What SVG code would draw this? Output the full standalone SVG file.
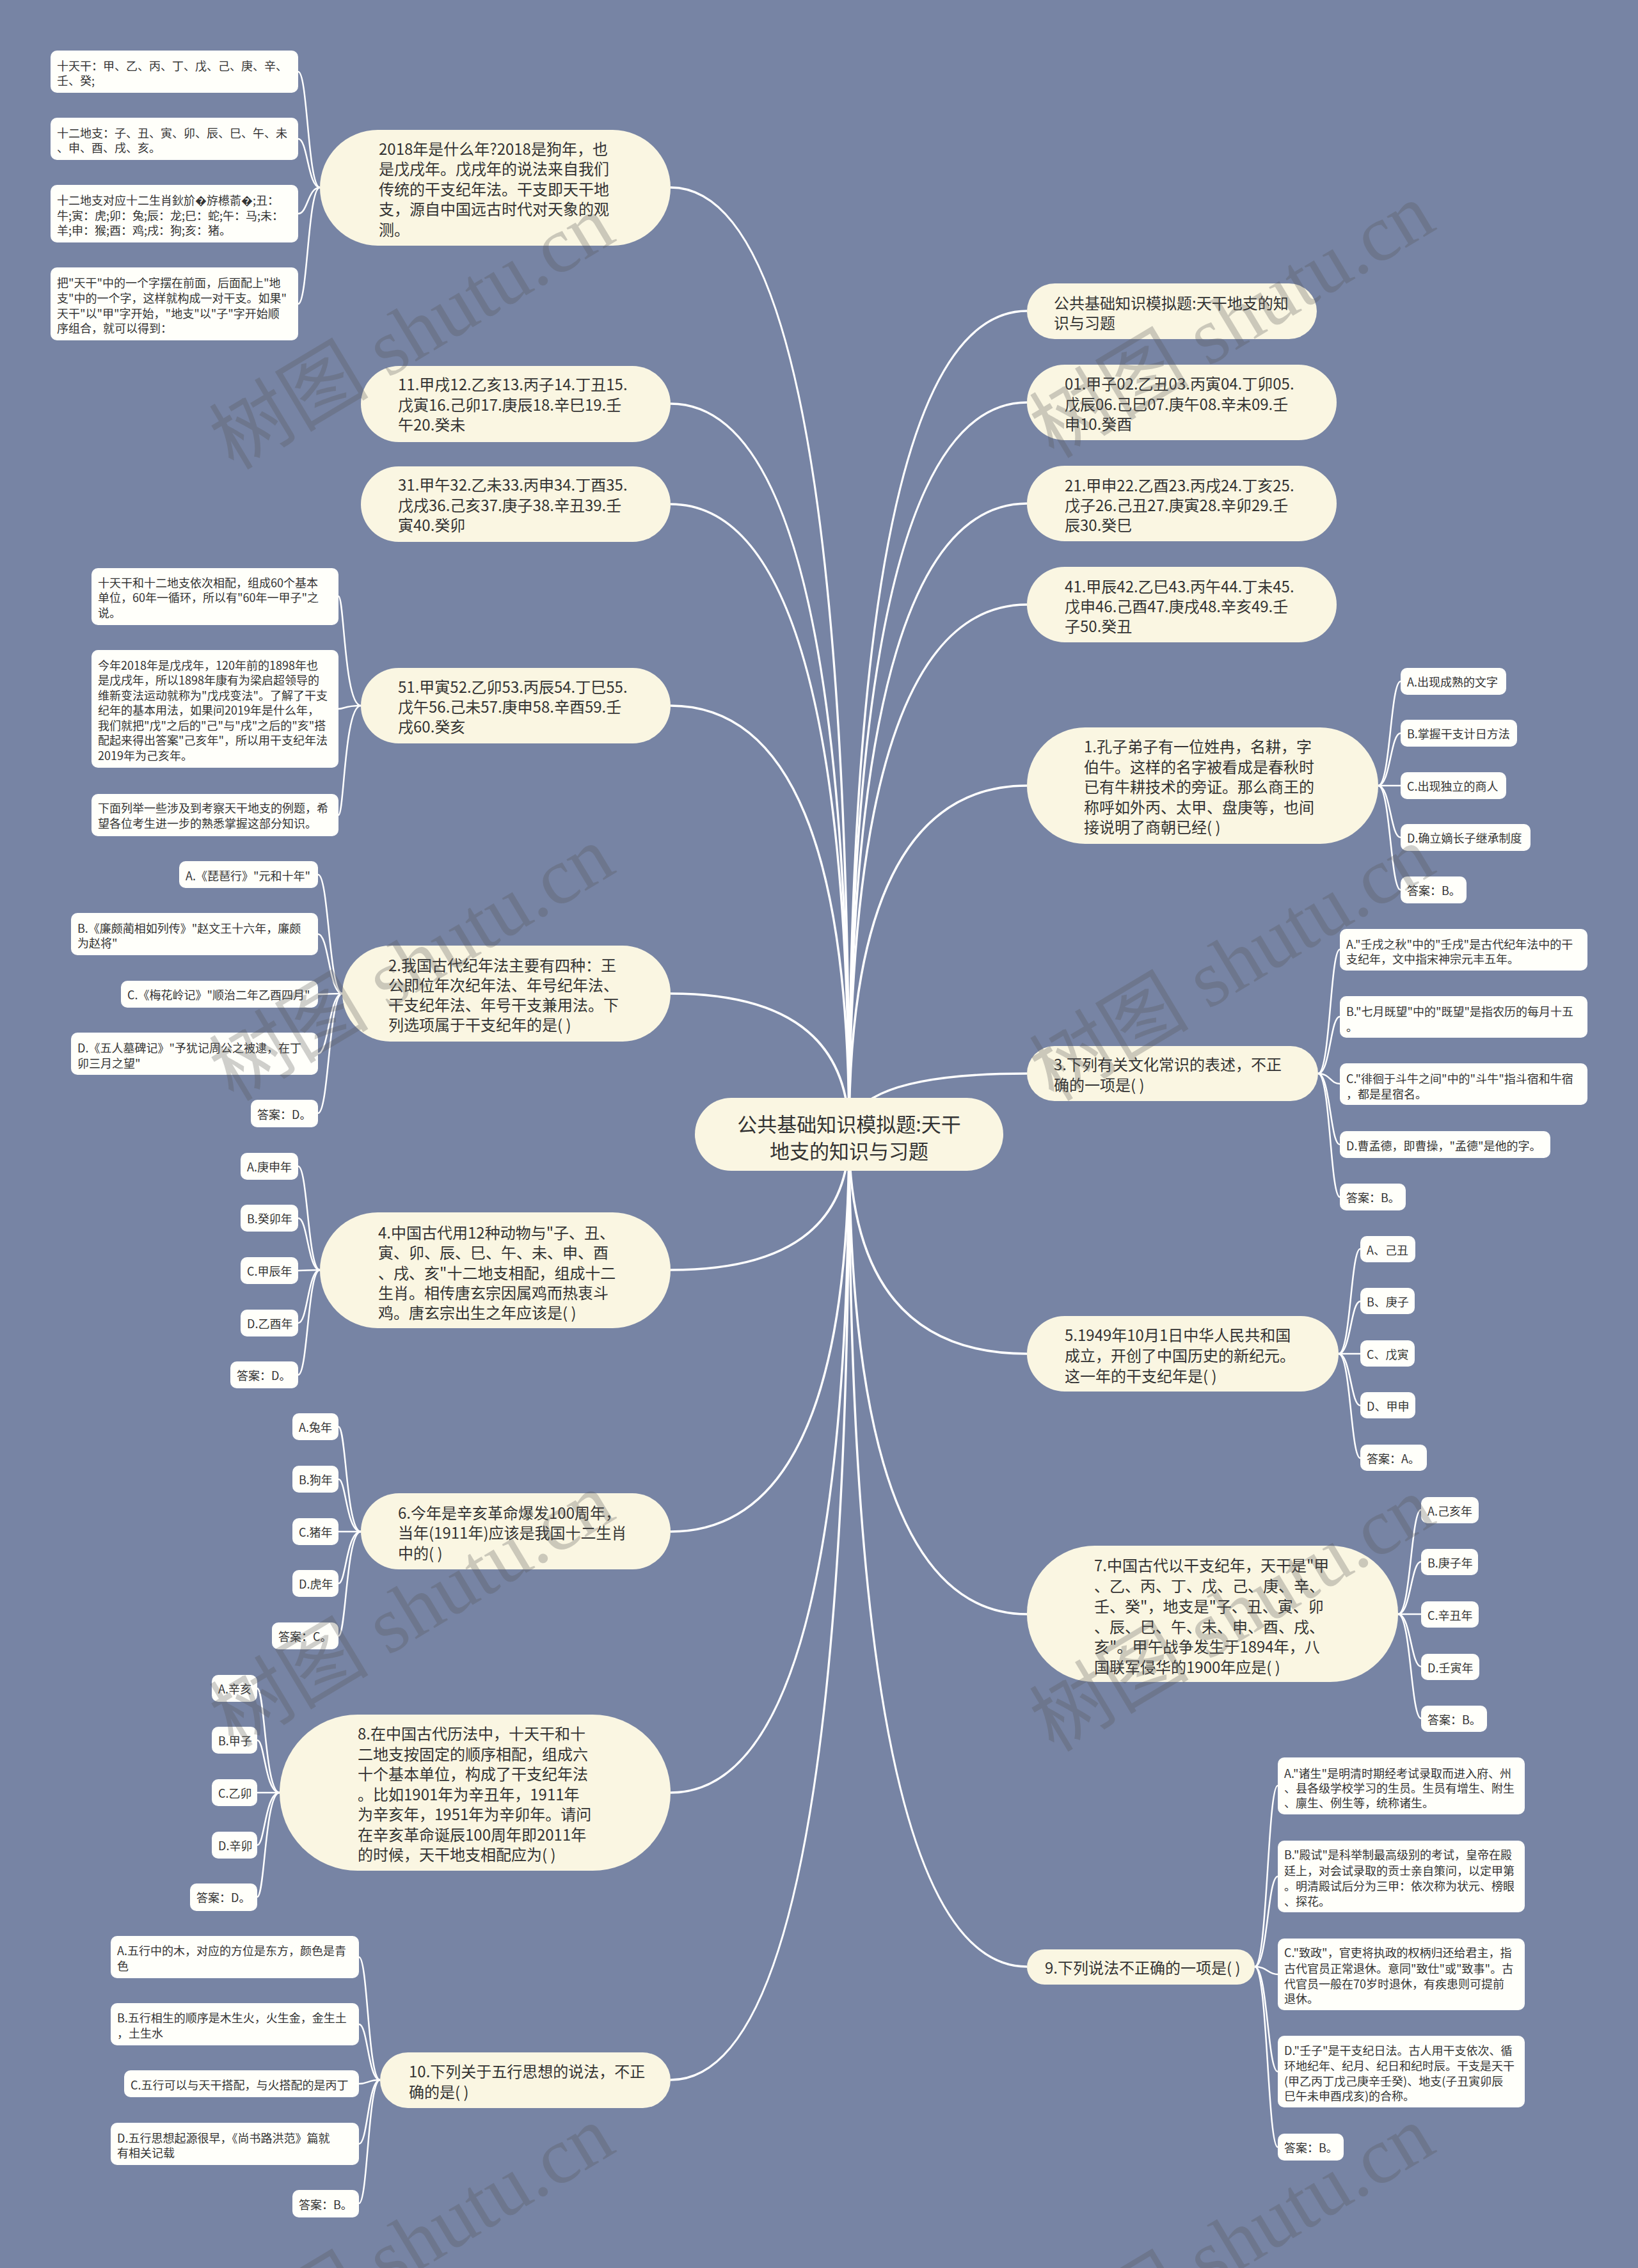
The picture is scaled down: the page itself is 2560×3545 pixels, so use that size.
<svg xmlns="http://www.w3.org/2000/svg" width="2560" height="3545" viewBox="0 0 2560 3545">
<style>
.c1{fill:none;stroke:#fff;stroke-width:3.5}
.c2{fill:none;stroke:#fff;stroke-width:2.5}
.n0{fill:#FAF6E2}
.n1{fill:#FAF6E2}
.lf{fill:#FFFFFA}
text{font-family:"Noto Sans CJK SC","Noto Sans",sans-serif;fill:#333;dominant-baseline:central}
.t0{font-size:31px}
.t1{font-size:24px}
.t2{font-size:18px}
.wm{font-family:"Liberation Serif","Noto Sans CJK SC",serif;font-size:125px;fill:#555;opacity:.28;dominant-baseline:auto}
</style>
<rect width="2560" height="3545" fill="#7784A4"/>
<g id="connectors">
<path class="c1" d="M1327 1773 Q1327 293 1048 293"/>
<path class="c1" d="M1327 1773 Q1327 631 1048 631"/>
<path class="c1" d="M1327 1773 Q1327 788 1048 788"/>
<path class="c1" d="M1327 1773 Q1327 1103 1048 1103"/>
<path class="c1" d="M1327 1773 Q1327 1553 1048 1553"/>
<path class="c1" d="M1327 1773 Q1327 1985 1048 1985"/>
<path class="c1" d="M1327 1773 Q1327 2394 1048 2394"/>
<path class="c1" d="M1327 1773 Q1327 2802 1048 2802"/>
<path class="c1" d="M1327 1773 Q1327 3251 1048 3251"/>
<path class="c1" d="M1327 1773 Q1327 486 1605 486"/>
<path class="c1" d="M1327 1773 Q1327 629 1605 629"/>
<path class="c1" d="M1327 1773 Q1327 787 1605 787"/>
<path class="c1" d="M1327 1773 Q1327 945 1605 945"/>
<path class="c1" d="M1327 1773 Q1327 1228 1605 1228"/>
<path class="c1" d="M1327 1773 Q1327 1678 1605 1678"/>
<path class="c1" d="M1327 1773 Q1327 2116 1605 2116"/>
<path class="c1" d="M1327 1773 Q1327 2523 1605 2523"/>
<path class="c1" d="M1327 1773 Q1327 3074 1605 3074"/>
<path class="c2" d="M500 293 C481 293 481 112 466 112"/>
<path class="c2" d="M500 293 C481 293 481 217 466 217"/>
<path class="c2" d="M500 293 C481 293 481 334 466 334"/>
<path class="c2" d="M500 293 C481 293 481 475 466 475"/>
<path class="c2" d="M564 1103 C538 1103 538 932 529 932"/>
<path class="c2" d="M564 1103 C538 1103 538 1108 529 1108"/>
<path class="c2" d="M564 1103 C538 1103 538 1274 529 1274"/>
<path class="c2" d="M535 1553 C514 1553 514 1367 497 1367"/>
<path class="c2" d="M535 1553 C514 1553 514 1460 497 1460"/>
<path class="c2" d="M535 1553 C514 1553 514 1554 497 1554"/>
<path class="c2" d="M535 1553 C514 1553 514 1647 497 1647"/>
<path class="c2" d="M535 1553 C514 1553 514 1740 497 1740"/>
<path class="c2" d="M500 1985 C481 1985 481 1823 466 1823"/>
<path class="c2" d="M500 1985 C481 1985 481 1904 466 1904"/>
<path class="c2" d="M500 1985 C481 1985 481 1986 466 1986"/>
<path class="c2" d="M500 1985 C481 1985 481 2068 466 2068"/>
<path class="c2" d="M500 1985 C481 1985 481 2149 466 2149"/>
<path class="c2" d="M564 2394 C541 2394 541 2230 529 2230"/>
<path class="c2" d="M564 2394 C541 2394 541 2312 529 2312"/>
<path class="c2" d="M564 2394 C541 2394 541 2394 529 2394"/>
<path class="c2" d="M564 2394 C541 2394 541 2475 529 2475"/>
<path class="c2" d="M564 2394 C541 2394 541 2557 529 2557"/>
<path class="c2" d="M437 2802 C414 2802 414 2639 402 2639"/>
<path class="c2" d="M437 2802 C414 2802 414 2720 402 2720"/>
<path class="c2" d="M437 2802 C414 2802 414 2802 402 2802"/>
<path class="c2" d="M437 2802 C414 2802 414 2884 402 2884"/>
<path class="c2" d="M437 2802 C414 2802 414 2965 402 2965"/>
<path class="c2" d="M594 3251 C575 3251 575 3059 561 3059"/>
<path class="c2" d="M594 3251 C575 3251 575 3164 561 3164"/>
<path class="c2" d="M594 3251 C575 3251 575 3257 561 3257"/>
<path class="c2" d="M594 3251 C575 3251 575 3351 561 3351"/>
<path class="c2" d="M594 3251 C575 3251 575 3444 561 3444"/>
<path class="c2" d="M2154 1228 C2173 1228 2173 1065 2189 1065"/>
<path class="c2" d="M2154 1228 C2173 1228 2173 1146 2189 1146"/>
<path class="c2" d="M2154 1228 C2173 1228 2173 1228 2189 1228"/>
<path class="c2" d="M2154 1228 C2173 1228 2173 1309 2189 1309"/>
<path class="c2" d="M2154 1228 C2173 1228 2173 1391 2189 1391"/>
<path class="c2" d="M2060 1678 C2079 1678 2079 1484 2094 1484"/>
<path class="c2" d="M2060 1678 C2079 1678 2079 1589 2094 1589"/>
<path class="c2" d="M2060 1678 C2079 1678 2079 1694 2094 1694"/>
<path class="c2" d="M2060 1678 C2079 1678 2079 1789 2094 1789"/>
<path class="c2" d="M2060 1678 C2079 1678 2079 1871 2094 1871"/>
<path class="c2" d="M2092 2116 C2111 2116 2111 1952 2126 1952"/>
<path class="c2" d="M2092 2116 C2111 2116 2111 2034 2126 2034"/>
<path class="c2" d="M2092 2116 C2111 2116 2111 2116 2126 2116"/>
<path class="c2" d="M2092 2116 C2111 2116 2111 2197 2126 2197"/>
<path class="c2" d="M2092 2116 C2111 2116 2111 2279 2126 2279"/>
<path class="c2" d="M2185 2523 C2205 2523 2205 2360 2221 2360"/>
<path class="c2" d="M2185 2523 C2205 2523 2205 2441 2221 2441"/>
<path class="c2" d="M2185 2523 C2205 2523 2205 2523 2221 2523"/>
<path class="c2" d="M2185 2523 C2205 2523 2205 2605 2221 2605"/>
<path class="c2" d="M2185 2523 C2205 2523 2205 2686 2221 2686"/>
<path class="c2" d="M1961 3074 C1981 3074 1981 2791 1997 2791"/>
<path class="c2" d="M1961 3074 C1981 3074 1981 2933 1997 2933"/>
<path class="c2" d="M1961 3074 C1981 3074 1981 3086 1997 3086"/>
<path class="c2" d="M1961 3074 C1981 3074 1981 3238 1997 3238"/>
<path class="c2" d="M1961 3074 C1981 3074 1981 3356 1997 3356"/>
</g>

<g id="center">
<rect class="n0" x="1086" y="1716" width="482" height="114" rx="57"/>
<text class="t0" text-anchor="middle"><tspan x="1327" y="1755">公共基础知识模拟题:天干</tspan><tspan x="1327" y="1797">地支的知识与习题</tspan></text>
</g>

<g id="L1">
<rect class="n1" x="500" y="203" width="548" height="181" rx="90.5"/>
<text class="t1"><tspan x="592" y="231">2018年是什么年?2018是狗年，也</tspan><tspan x="592" y="262">是戊戌年。戊戌年的说法来自我们</tspan><tspan x="592" y="294">传统的干支纪年法。干支即天干地</tspan><tspan x="592" y="325">支，源自中国远古时代对天象的观</tspan><tspan x="592" y="357">测。</tspan></text>
</g>
<g id="L1a"><rect class="lf" x="79" y="79" width="387" height="66" rx="10"/><text class="t2"><tspan x="89" y="102">十天干：甲、乙、丙、丁、戊、己、庚、辛、</tspan><tspan x="89" y="125">壬、癸;</tspan></text></g>
<g id="L1b"><rect class="lf" x="79" y="184" width="387" height="66" rx="10"/><text class="t2"><tspan x="89" y="207">十二地支：子、丑、寅、卯、辰、巳、午、未</tspan><tspan x="89" y="230">、申、酉、戌、亥。</tspan></text></g>
<g id="L1c"><rect class="lf" x="79" y="289" width="387" height="90" rx="10"/><text class="t2"><tspan x="89" y="312">十二地支对应十二生肖鈥斺�斿櫒萮�;丑：</tspan><tspan x="89" y="335.5">牛;寅：虎;卯：兔;辰：龙;巳：蛇;午：马;未：</tspan><tspan x="89" y="359">羊;申：猴;酉：鸡;戌：狗;亥：猪。</tspan></text></g>
<g id="L1d"><rect class="lf" x="79" y="418" width="387" height="114" rx="10"/><text class="t2"><tspan x="89" y="441">把"天干"中的一个字摆在前面，后面配上"地</tspan><tspan x="89" y="465">支"中的一个字，这样就构成一对干支。如果"</tspan><tspan x="89" y="488.5">天干"以"甲"字开始，"地支"以"子"字开始顺</tspan><tspan x="89" y="512">序组合，就可以得到：</tspan></text></g>

<g id="L2"><rect class="n1" x="564" y="572" width="484" height="119" rx="59.5"/><text class="t1"><tspan x="622" y="599">11.甲戌12.乙亥13.丙子14.丁丑15.</tspan><tspan x="622" y="631">戊寅16.己卯17.庚辰18.辛巳19.壬</tspan><tspan x="622" y="662">午20.癸未</tspan></text></g>
<g id="L3"><rect class="n1" x="564" y="729" width="484" height="118" rx="59"/><text class="t1"><tspan x="622" y="756">31.甲午32.乙未33.丙申34.丁酉35.</tspan><tspan x="622" y="788">戊戌36.己亥37.庚子38.辛丑39.壬</tspan><tspan x="622" y="819">寅40.癸卯</tspan></text></g>
<g id="L4"><rect class="n1" x="564" y="1044" width="484" height="118" rx="59"/><text class="t1"><tspan x="622" y="1072">51.甲寅52.乙卯53.丙辰54.丁巳55.</tspan><tspan x="622" y="1103">戊午56.己未57.庚申58.辛酉59.壬</tspan><tspan x="622" y="1134">戌60.癸亥</tspan></text></g>
<g id="L4a"><rect class="lf" x="143" y="888" width="386" height="89" rx="10"/><text class="t2"><tspan x="153" y="909.5">十天干和十二地支依次相配，组成60个基本</tspan><tspan x="153" y="933">单位，60年一循环，所以有"60年一甲子"之</tspan><tspan x="153" y="956.5">说。</tspan></text></g>
<g id="L4b"><rect class="lf" x="143" y="1016" width="386" height="184" rx="10"/><text class="t2"><tspan x="153" y="1038.5">今年2018年是戊戌年，120年前的1898年也</tspan><tspan x="153" y="1062">是戊戌年，所以1898年康有为梁启超领导的</tspan><tspan x="153" y="1085.5">维新变法运动就称为"戊戌变法"。了解了干支</tspan><tspan x="153" y="1109">纪年的基本用法，如果问2019年是什么年，</tspan><tspan x="153" y="1132.5">我们就把"戊"之后的"己"与"戌"之后的"亥"搭</tspan><tspan x="153" y="1156">配起来得出答案"己亥年"，所以用干支纪年法</tspan><tspan x="153" y="1179.5">2019年为己亥年。</tspan></text></g>
<g id="L4c"><rect class="lf" x="143" y="1241" width="386" height="66" rx="10"/><text class="t2"><tspan x="153" y="1262">下面列举一些涉及到考察天干地支的例题，希</tspan><tspan x="153" y="1285.5">望各位考生进一步的熟悉掌握这部分知识。</tspan></text></g>

<g id="L5"><rect class="n1" x="535" y="1478" width="513" height="150" rx="75"/><text class="t1"><tspan x="607" y="1507">2.我国古代纪年法主要有四种：王</tspan><tspan x="607" y="1538">公即位年次纪年法、年号纪年法、</tspan><tspan x="607" y="1569">干支纪年法、年号干支兼用法。下</tspan><tspan x="607" y="1600">列选项属于干支纪年的是( )</tspan></text></g>
<g id="L5a"><rect class="lf" x="280" y="1346" width="217" height="42" rx="10"/><text class="t2" x="290" y="1368">A.《琵琶行》"元和十年"</text></g>
<g id="L5b"><rect class="lf" x="111" y="1427" width="386" height="66" rx="10"/><text class="t2"><tspan x="121" y="1450">B.《廉颇蔺相如列传》"赵文王十六年，廉颇</tspan><tspan x="121" y="1473">为赵将"</tspan></text></g>
<g id="L5c"><rect class="lf" x="189" y="1533" width="308" height="42" rx="10"/><text class="t2" x="199" y="1554">C.《梅花岭记》"顺治二年乙酉四月"</text></g>
<g id="L5d"><rect class="lf" x="111" y="1614" width="386" height="66" rx="10"/><text class="t2"><tspan x="121" y="1637">D.《五人墓碑记》"予犹记周公之被逮，在丁</tspan><tspan x="121" y="1661">卯三月之望"</tspan></text></g>
<g id="L5e"><rect class="lf" x="392" y="1719" width="105" height="43" rx="10"/><text class="t2" x="402" y="1741">答案：D。</text></g>

<g id="L6"><rect class="n1" x="500" y="1895" width="548" height="181" rx="90.5"/><text class="t1"><tspan x="591" y="1925">4.中国古代用12种动物与"子、丑、</tspan><tspan x="591" y="1956">寅、卯、辰、巳、午、未、申、酉</tspan><tspan x="591" y="1988">、戌、亥"十二地支相配，组成十二</tspan><tspan x="591" y="2019">生肖。相传唐玄宗因属鸡而热衷斗</tspan><tspan x="591" y="2050">鸡。唐玄宗出生之年应该是( )</tspan></text></g>
<g id="L6a"><rect class="lf" x="376" y="1802" width="90" height="42" rx="10"/><text class="t2" x="386" y="1823">A.庚申年</text></g>
<g id="L6b"><rect class="lf" x="376" y="1883" width="90" height="42" rx="10"/><text class="t2" x="386" y="1904">B.癸卯年</text></g>
<g id="L6c"><rect class="lf" x="376" y="1965" width="90" height="42" rx="10"/><text class="t2" x="386" y="1986">C.甲辰年</text></g>
<g id="L6d"><rect class="lf" x="376" y="2047" width="90" height="42" rx="10"/><text class="t2" x="386" y="2068">D.乙酉年</text></g>
<g id="L6e"><rect class="lf" x="360" y="2128" width="106" height="42" rx="10"/><text class="t2" x="370" y="2149">答案：D。</text></g>

<g id="L7"><rect class="n1" x="564" y="2334" width="484" height="119" rx="59.5"/><text class="t1"><tspan x="622" y="2363">6.今年是辛亥革命爆发100周年，</tspan><tspan x="622" y="2394">当年(1911年)应该是我国十二生肖</tspan><tspan x="622" y="2426">中的( )</tspan></text></g>
<g id="L7a"><rect class="lf" x="457" y="2209" width="72" height="42" rx="10"/><text class="t2" x="467" y="2230">A.兔年</text></g>
<g id="L7b"><rect class="lf" x="457" y="2291" width="72" height="42" rx="10"/><text class="t2" x="467" y="2312">B.狗年</text></g>
<g id="L7c"><rect class="lf" x="457" y="2373" width="72" height="42" rx="10"/><text class="t2" x="467" y="2394">C.猪年</text></g>
<g id="L7d"><rect class="lf" x="457" y="2454" width="72" height="42" rx="10"/><text class="t2" x="467" y="2475">D.虎年</text></g>
<g id="L7e"><rect class="lf" x="425" y="2536" width="104" height="42" rx="10"/><text class="t2" x="435" y="2557">答案：C。</text></g>

<g id="L8"><rect class="n1" x="437" y="2680" width="611" height="244" rx="122"/><text class="t1"><tspan x="559" y="2708">8.在中国古代历法中，十天干和十</tspan><tspan x="559" y="2739.5">二地支按固定的顺序相配，组成六</tspan><tspan x="559" y="2771">十个基本单位，构成了干支纪年法</tspan><tspan x="559" y="2802.5">。比如1901年为辛丑年，1911年</tspan><tspan x="559" y="2834">为辛亥年，1951年为辛卯年。请问</tspan><tspan x="559" y="2865.5">在辛亥革命诞辰100周年即2011年</tspan><tspan x="559" y="2897">的时候，天干地支相配应为( )</tspan></text></g>
<g id="L8a"><rect class="lf" x="331" y="2618" width="71" height="42" rx="10"/><text class="t2" x="341" y="2639">A.辛亥</text></g>
<g id="L8b"><rect class="lf" x="331" y="2699" width="71" height="42" rx="10"/><text class="t2" x="341" y="2720">B.甲子</text></g>
<g id="L8c"><rect class="lf" x="331" y="2781" width="71" height="42" rx="10"/><text class="t2" x="341" y="2802">C.乙卯</text></g>
<g id="L8d"><rect class="lf" x="331" y="2863" width="71" height="42" rx="10"/><text class="t2" x="341" y="2884">D.辛卯</text></g>
<g id="L8e"><rect class="lf" x="297" y="2944" width="105" height="43" rx="10"/><text class="t2" x="307" y="2965">答案：D。</text></g>

<g id="L9"><rect class="n1" x="594" y="3208" width="454" height="87" rx="43.5"/><text class="t1"><tspan x="639" y="3236">10.下列关于五行思想的说法，不正</tspan><tspan x="639" y="3268">确的是( )</tspan></text></g>
<g id="L9a"><rect class="lf" x="173" y="3026" width="388" height="66" rx="10"/><text class="t2"><tspan x="183" y="3048">A.五行中的木，对应的方位是东方，颜色是青</tspan><tspan x="183" y="3072">色</tspan></text></g>
<g id="L9b"><rect class="lf" x="173" y="3131" width="388" height="66" rx="10"/><text class="t2"><tspan x="183" y="3153">B.五行相生的顺序是木生火，火生金，金生土</tspan><tspan x="183" y="3177">，土生水</tspan></text></g>
<g id="L9c"><rect class="lf" x="194" y="3236" width="367" height="42" rx="10"/><text class="t2" x="204" y="3258">C.五行可以与天干搭配，与火搭配的是丙丁</text></g>
<g id="L9d"><rect class="lf" x="173" y="3318" width="388" height="66" rx="10"/><text class="t2"><tspan x="183" y="3341">D.五行思想起源很早，《尚书路洪范》篇就</tspan><tspan x="183" y="3364">有相关记载</tspan></text></g>
<g id="L9e"><rect class="lf" x="457" y="3423" width="104" height="43" rx="10"/><text class="t2" x="467" y="3445">答案：B。</text></g>

<g id="R1"><rect class="n1" x="1605" y="443" width="453" height="87" rx="43.5"/><text class="t1"><tspan x="1647" y="472">公共基础知识模拟题:天干地支的知</tspan><tspan x="1647" y="503">识与习题</tspan></text></g>
<g id="R2"><rect class="n1" x="1605" y="570" width="484" height="118" rx="59"/><text class="t1"><tspan x="1664" y="598">01.甲子02.乙丑03.丙寅04.丁卯05.</tspan><tspan x="1664" y="629.5">戊辰06.己巳07.庚午08.辛未09.壬</tspan><tspan x="1664" y="661">申10.癸酉</tspan></text></g>
<g id="R3"><rect class="n1" x="1605" y="728" width="484" height="118" rx="59"/><text class="t1"><tspan x="1664" y="757">21.甲申22.乙酉23.丙戌24.丁亥25.</tspan><tspan x="1664" y="788">戊子26.己丑27.庚寅28.辛卯29.壬</tspan><tspan x="1664" y="819">辰30.癸巳</tspan></text></g>
<g id="R4"><rect class="n1" x="1605" y="886" width="484" height="118" rx="59"/><text class="t1"><tspan x="1664" y="915">41.甲辰42.乙巳43.丙午44.丁未45.</tspan><tspan x="1664" y="946">戊申46.己酉47.庚戌48.辛亥49.壬</tspan><tspan x="1664" y="977">子50.癸丑</tspan></text></g>

<g id="R5"><rect class="n1" x="1605" y="1137" width="549" height="182" rx="91"/><text class="t1"><tspan x="1694" y="1165">1.孔子弟子有一位姓冉，名耕，字</tspan><tspan x="1694" y="1196.5">伯牛。这样的名字被看成是春秋时</tspan><tspan x="1694" y="1228">已有牛耕技术的旁证。那么商王的</tspan><tspan x="1694" y="1259.5">称呼如外丙、太甲、盘庚等，也间</tspan><tspan x="1694" y="1291">接说明了商朝已经( )</tspan></text></g>
<g id="R5a"><rect class="lf" x="2189" y="1044" width="165" height="42" rx="10"/><text class="t2" x="2199" y="1065">A.出现成熟的文字</text></g>
<g id="R5b"><rect class="lf" x="2189" y="1125" width="182" height="42" rx="10"/><text class="t2" x="2199" y="1146">B.掌握干支计日方法</text></g>
<g id="R5c"><rect class="lf" x="2189" y="1207" width="165" height="42" rx="10"/><text class="t2" x="2199" y="1228">C.出现独立的商人</text></g>
<g id="R5d"><rect class="lf" x="2189" y="1288" width="203" height="42" rx="10"/><text class="t2" x="2199" y="1309">D.确立嫡长子继承制度</text></g>
<g id="R5e"><rect class="lf" x="2189" y="1370" width="103" height="42" rx="10"/><text class="t2" x="2199" y="1391">答案：B。</text></g>

<g id="R6"><rect class="n1" x="1605" y="1635" width="455" height="86" rx="43"/><text class="t1"><tspan x="1647" y="1662">3.下列有关文化常识的表述，不正</tspan><tspan x="1647" y="1694">确的一项是( )</tspan></text></g>
<g id="R6a"><rect class="lf" x="2094" y="1452" width="387" height="65" rx="10"/><text class="t2"><tspan x="2104" y="1475">A."壬戌之秋"中的"壬戌"是古代纪年法中的干</tspan><tspan x="2104" y="1498">支纪年，文中指宋神宗元丰五年。</tspan></text></g>
<g id="R6b"><rect class="lf" x="2094" y="1557" width="387" height="65" rx="10"/><text class="t2"><tspan x="2104" y="1580">B."七月既望"中的"既望"是指农历的每月十五</tspan><tspan x="2104" y="1603.5">。</tspan></text></g>
<g id="R6c"><rect class="lf" x="2094" y="1662" width="387" height="65" rx="10"/><text class="t2"><tspan x="2104" y="1685">C."徘徊于斗牛之间"中的"斗牛"指斗宿和牛宿</tspan><tspan x="2104" y="1708.5">，都是星宿名。</tspan></text></g>
<g id="R6d"><rect class="lf" x="2094" y="1768" width="329" height="42" rx="10"/><text class="t2" x="2104" y="1790">D.曹孟德，即曹操，"孟德"是他的字。</text></g>
<g id="R6e"><rect class="lf" x="2094" y="1850" width="103" height="42" rx="10"/><text class="t2" x="2104" y="1871">答案：B。</text></g>

<g id="R7"><rect class="n1" x="1605" y="2057" width="487" height="118" rx="59"/><text class="t1"><tspan x="1664" y="2085">5.1949年10月1日中华人民共和国</tspan><tspan x="1664" y="2117">成立，开创了中国历史的新纪元。</tspan><tspan x="1664" y="2149">这一年的干支纪年是( )</tspan></text></g>
<g id="R7a"><rect class="lf" x="2126" y="1932" width="86" height="41" rx="10"/><text class="t2" x="2136" y="1953">A、己丑</text></g>
<g id="R7b"><rect class="lf" x="2126" y="2013" width="85" height="41" rx="10"/><text class="t2" x="2136" y="2034">B、庚子</text></g>
<g id="R7c"><rect class="lf" x="2126" y="2095" width="85" height="41" rx="10"/><text class="t2" x="2136" y="2116">C、戊寅</text></g>
<g id="R7d"><rect class="lf" x="2126" y="2176" width="86" height="41" rx="10"/><text class="t2" x="2136" y="2197">D、甲申</text></g>
<g id="R7e"><rect class="lf" x="2126" y="2258" width="104" height="41" rx="10"/><text class="t2" x="2136" y="2279">答案：A。</text></g>

<g id="R8"><rect class="n1" x="1605" y="2416" width="580" height="213" rx="106"/><text class="t1"><tspan x="1710" y="2445">7.中国古代以干支纪年，天干是"甲</tspan><tspan x="1710" y="2477">、乙、丙、丁、戊、己、庚、辛、</tspan><tspan x="1710" y="2509">壬、癸"，地支是"子、丑、寅、卯</tspan><tspan x="1710" y="2541">、辰、巳、午、未、申、酉、戌、</tspan><tspan x="1710" y="2572">亥"。甲午战争发生于1894年，八</tspan><tspan x="1710" y="2604">国联军侵华的1900年应是( )</tspan></text></g>
<g id="R8a"><rect class="lf" x="2221" y="2340" width="90" height="41" rx="10"/><text class="t2" x="2231" y="2361">A.己亥年</text></g>
<g id="R8b"><rect class="lf" x="2221" y="2421" width="89" height="41" rx="10"/><text class="t2" x="2231" y="2442">B.庚子年</text></g>
<g id="R8c"><rect class="lf" x="2221" y="2503" width="90" height="41" rx="10"/><text class="t2" x="2231" y="2524">C.辛丑年</text></g>
<g id="R8d"><rect class="lf" x="2221" y="2585" width="91" height="41" rx="10"/><text class="t2" x="2231" y="2606">D.壬寅年</text></g>
<g id="R8e"><rect class="lf" x="2221" y="2666" width="103" height="41" rx="10"/><text class="t2" x="2231" y="2687">答案：B。</text></g>

<g id="R9"><rect class="n1" x="1605" y="3047" width="356" height="55" rx="27.5"/><text class="t1" x="1633" y="3074.5">9.下列说法不正确的一项是( )</text></g>
<g id="R9a"><rect class="lf" x="1997" y="2747" width="386" height="89" rx="10"/><text class="t2"><tspan x="2007" y="2771">A."诸生"是明清时期经考试录取而进入府、州</tspan><tspan x="2007" y="2794">、县各级学校学习的生员。生员有增生、附生</tspan><tspan x="2007" y="2817">、廪生、例生等，统称诸生。</tspan></text></g>
<g id="R9b"><rect class="lf" x="1997" y="2877" width="386" height="112" rx="10"/><text class="t2"><tspan x="2007" y="2898">B."殿试"是科举制最高级别的考试，皇帝在殿</tspan><tspan x="2007" y="2922.5">廷上，对会试录取的贡士亲自策问，以定甲第</tspan><tspan x="2007" y="2946.5">。明清殿试后分为三甲：依次称为状元、榜眼</tspan><tspan x="2007" y="2971">、探花。</tspan></text></g>
<g id="R9c"><rect class="lf" x="1997" y="3030" width="386" height="112" rx="10"/><text class="t2"><tspan x="2007" y="3051">C."致政"，官吏将执政的权柄归还给君主，指</tspan><tspan x="2007" y="3075.5">古代官员正常退休。意同"致仕"或"致事"。古</tspan><tspan x="2007" y="3099.5">代官员一般在70岁时退休，有疾患则可提前</tspan><tspan x="2007" y="3123">退休。</tspan></text></g>
<g id="R9d"><rect class="lf" x="1997" y="3182" width="386" height="112" rx="10"/><text class="t2"><tspan x="2007" y="3204">D."壬子"是干支纪日法。古人用干支依次、循</tspan><tspan x="2007" y="3228">环地纪年、纪月、纪日和纪时辰。干支是天干</tspan><tspan x="2007" y="3252">(甲乙丙丁戊己庚辛壬癸)、地支(子丑寅卯辰</tspan><tspan x="2007" y="3275">巳午未申酉戌亥)的合称。</tspan></text></g>
<g id="R9e"><rect class="lf" x="1997" y="3335" width="103" height="42" rx="10"/><text class="t2" x="2007" y="3356">答案：B。</text></g>

<g id="watermarks">
<text class="wm" text-anchor="middle" transform="translate(643 518) rotate(-31)" dy="0.35em">树图 shutu.cn</text>
<text class="wm" text-anchor="middle" transform="translate(1925 500) rotate(-31)" dy="0.35em">树图 shutu.cn</text>
<text class="wm" text-anchor="middle" transform="translate(643 1505) rotate(-31)" dy="0.35em">树图 shutu.cn</text>
<text class="wm" text-anchor="middle" transform="translate(1925 1505) rotate(-31)" dy="0.35em">树图 shutu.cn</text>
<text class="wm" text-anchor="middle" transform="translate(643 2515) rotate(-31)" dy="0.35em">树图 shutu.cn</text>
<text class="wm" text-anchor="middle" transform="translate(1925 2522) rotate(-31)" dy="0.35em">树图 shutu.cn</text>
<text class="wm" text-anchor="middle" transform="translate(643 3505) rotate(-31)" dy="0.35em">树图 shutu.cn</text>
<text class="wm" text-anchor="middle" transform="translate(1925 3505) rotate(-31)" dy="0.35em">树图 shutu.cn</text>
</g>
</svg>
